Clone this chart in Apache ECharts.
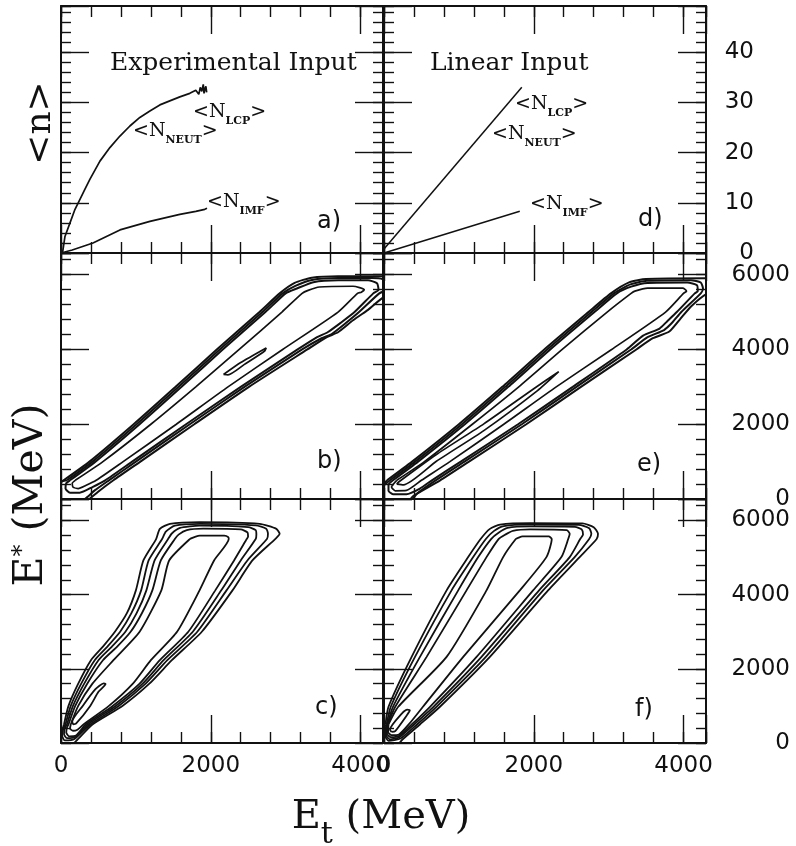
<!DOCTYPE html>
<html><head><meta charset="utf-8">
<script src="https://cdn.jsdelivr.net/npm/echarts@6/dist/echarts.min.js"></script>
<style>html,body{margin:0;padding:0;background:#fff}#c{width:796px;height:846px}</style>
</head><body><div id="c"></div>
<script>
// ---------- axis ranges / ticks ----------
const xTicks = [0, 2000, 4000];
const nTicks = [0, 10, 20, 30, 40];
const eTicks = [0, 2000, 4000, 6000];
const X_MAX = 4300, N_MAX = 49.2, E_MAX = 6580;
const X_MINOR = 400, N_MINOR = 2, E_MINOR = 400;

// ---------- panel a) experimental multiplicities (E_t MeV, <n>) ----------
const expLcpNeut = [[20,0],[53,3.3],[120,6.0],[187,8.7],[253,10.7],[320,12.7],[387,14.7],[520,18.3],[653,21.0],[787,23.3],[920,25.3],[1053,27.0],[1187,28.3],[1320,29.5],[1453,30.3],[1587,31.1],[1720,31.8],[1800,32.4],[1840,31.6],[1860,33.0],[1880,32.2],[1900,33.6],[1910,31.8],[1925,32.8],[1935,33.2],[1945,32.0]];
const expImf = [[0,0],[150,0.6],[427,2.0],[787,4.6],[1187,6.3],[1587,7.7],[1800,8.3],[1920,8.7],[1935,8.5],[1950,8.9]];
// ---------- panel d) linear input ----------
const linLcpNeut = [[0,0.8],[1840,33.0]];
const linImf = [[0,0],[1813,8.3]];

// ---------- panel b) contours (E_t, E*) ----------
const bC1 = [[35,500],[380,1000],[970,2000],[1530,3000],[2080,4000],[2650,5000],[2920,5500],[3120,5780],[3350,5920],[3700,5960],[4300,5960],[4500,5960],[4500,5500],[4400,5500],[4100,5060],[3900,4780],[3700,4460],[3550,4330],[3290,4000],[2510,3000],[1780,2000],[1060,1000],[700,500],[500,200],[380,0],[300,-100],[-100,-100],[-100,300],[0,450],[35,500]];
const bC2 = [[80,500],[420,1000],[1010,2000],[1570,3000],[2120,4000],[2690,5000],[2960,5500],[3130,5700],[3350,5860],[3700,5910],[4150,5910],[4300,5880],[4360,5780],[4350,5600],[4250,5500],[3980,5000],[3800,4700],[3620,4420],[3480,4300],[3220,4000],[2450,3000],[1720,2000],[1000,1000],[640,500],[450,230],[350,50],[250,-100],[-100,-100],[-100,380],[20,480],[80,500]];
const bC3 = [[120,500],[460,1000],[1050,2000],[1610,3000],[2160,4000],[2730,5000],[3000,5500],[3150,5630],[3370,5800],[3700,5850],[4100,5850],[4220,5770],[4240,5600],[4170,5500],[3920,5000],[3740,4720],[3560,4460],[3420,4330],[3160,4000],[2400,3000],[1670,2000],[950,1000],[590,500],[420,320],[250,170],[120,170],[60,280],[70,420],[120,500]];
const bC4 = [[190,500],[560,1000],[1200,2000],[1800,3000],[2380,4000],[2950,5000],[3220,5500],[3300,5580],[3450,5670],[3900,5690],[4050,5600],[4010,5530],[3960,5500],[3700,5000],[2960,4000],[2230,3000],[1540,2000],[830,1000],[470,500],[330,360],[230,280],[160,320],[150,420],[190,500]];
const bC5 = [[2170,3330],[2400,3650],[2740,4040],[2720,3960],[2450,3600],[2230,3320],[2170,3330]];

// ---------- panel e) contours ----------
const eC1 = [[40,500],[375,1000],[1000,2000],[1580,3000],[2140,4000],[2730,5000],[3030,5500],[3280,5800],[3500,5885],[4300,5905],[4500,5905],[4500,5600],[4320,5500],[4100,5150],[3950,4800],[3810,4480],[3590,4300],[3370,4000],[2630,3000],[1900,2000],[1135,1000],[750,500],[390,80],[300,-100],[-100,-100],[-100,300],[0,420],[40,500]];
const eC2 = [[80,500],[415,1000],[1040,2000],[1620,3000],[2180,4000],[2770,5000],[3070,5500],[3290,5740],[3510,5835],[4100,5850],[4230,5790],[4260,5630],[4230,5500],[3970,5000],[3850,4720],[3740,4520],[3520,4330],[3300,4000],[2570,3000],[1840,2000],[1075,1000],[690,500],[450,160],[320,-100],[-100,-100],[-100,250],[0,370],[80,500]];
const eC3 = [[120,500],[455,1000],[1080,2000],[1660,3000],[2220,4000],[2810,5000],[3110,5500],[3300,5680],[3520,5780],[4050,5790],[4180,5720],[4190,5560],[4150,5500],[3910,5000],[3780,4750],[3680,4560],[3460,4370],[3240,4000],[2520,3000],[1790,2000],[1025,1000],[640,500],[480,280],[300,130],[120,130],[60,220],[60,380],[120,500]];
const eC4 = [[170,500],[540,1000],[1180,2000],[1800,3000],[2380,4000],[2980,5000],[3300,5500],[3350,5560],[3520,5640],[3990,5640],[4040,5560],[4000,5500],[3760,5000],[3040,4000],[2300,3000],[1600,2000],[880,1000],[500,500],[300,230],[150,220],[100,320],[170,500]];
const eC5 = [[170,400],[200,460],[700,1190],[1333,2010],[2000,2950],[2333,3406],[2050,2900],[1333,1830],[700,1010],[260,380],[170,400]];

// ---------- panel c) contours ----------
const cC1 = [[40,500],[100,1000],[230,1600],[400,2233],[560,2600],[720,3000],[880,3500],[1000,4116],[1100,4923],[1270,5500],[1320,5775],[1454,5910],[1853,5955],[2653,5910],[2876,5775],[2920,5640],[2860,5500],[2556,4923],[2290,4116],[1880,3000],[1480,2233],[1180,1600],[820,1000],[420,500],[200,50],[100,-100],[-100,-100],[-100,200],[0,300],[40,500]];
const cC2 = [[60,500],[130,1000],[270,1600],[450,2233],[620,2600],[790,3000],[940,3500],[1070,4116],[1170,4923],[1350,5500],[1400,5700],[1520,5860],[1850,5910],[2600,5870],[2740,5780],[2764,5640],[2750,5500],[2489,4923],[2210,4116],[1820,3000],[1420,2233],[1130,1600],[770,1000],[390,500],[180,110],[50,70],[15,200],[30,380],[60,500]];
const cC3 = [[80,500],[160,1000],[310,1600],[500,2233],[680,2600],[860,3000],[1010,3500],[1140,4116],[1250,4923],[1430,5500],[1480,5650],[1590,5800],[1850,5860],[2500,5820],[2600,5740],[2609,5620],[2600,5500],[2400,4923],[2140,4116],[1760,3000],[1370,2233],[1090,1600],[730,1000],[360,500],[190,160],[80,130],[40,240],[50,400],[80,500]];
const cC4 = [[100,500],[190,1000],[350,1600],[560,2233],[750,2600],[930,3000],[1080,3500],[1220,4116],[1333,4923],[1520,5500],[1570,5620],[1680,5740],[1900,5780],[2400,5760],[2490,5680],[2498,5560],[2480,5500],[2311,4923],[2060,4116],[1700,3000],[1320,2233],[1050,1600],[690,1000],[330,500],[200,200],[110,180],[70,280],[80,420],[100,500]];
const cC5 = [[130,500],[230,1000],[420,1600],[700,2233],[1050,3000],[1340,4116],[1444,4923],[1720,5500],[1780,5550],[1853,5594],[2180,5590],[2235,5550],[2240,5500],[2044,4923],[1850,4116],[1550,3000],[1200,2233],[960,1600],[640,1000],[300,500],[220,360],[160,330],[120,390],[130,500]];
const cC6 = [[160,500],[150,580],[290,1000],[460,1450],[570,1610],[595,1590],[500,1380],[390,1000],[200,520],[160,500]];

// ---------- panel f) contours ----------
const fC1 = [[20,500],[60,977],[369,2323],[836,4116],[1124,5013],[1290,5500],[1414,5775],[1550,5890],[1950,5930],[2650,5920],[2800,5820],[2858,5640],[2840,5500],[2613,5013],[2191,4116],[1414,2323],[747,977],[480,500],[250,100],[150,-100],[-100,-100],[-100,300],[0,400],[20,500]];
const fC2 = [[35,500],[90,977],[414,2323],[902,4116],[1191,5013],[1360,5500],[1470,5720],[1600,5850],[1950,5890],[2600,5880],[2740,5790],[2769,5640],[2740,5500],[2546,5013],[2124,4116],[1360,2323],[700,977],[440,500],[220,120],[60,60],[15,200],[20,380],[35,500]];
const fC3 = [[45,500],[120,977],[480,2323],[991,4116],[1258,5013],[1430,5500],[1530,5670],[1650,5800],[1950,5840],[2550,5830],[2640,5760],[2658,5620],[2620,5500],[2480,5013],[2071,4116],[1302,2323],[660,977],[400,500],[200,150],[80,100],[30,200],[35,380],[45,500]];
const fC4 = [[50,500],[150,977],[569,2323],[1102,4116],[1369,5013],[1530,5500],[1620,5620],[1720,5720],[1950,5760],[2440,5740],[2480,5640],[2460,5500],[2369,5013],[1991,4116],[1236,2323],[614,977],[370,500],[200,190],[90,160],[40,250],[45,400],[50,500]];
const fC5 = [[60,500],[190,977],[836,2323],[1369,4116],[1591,5013],[1760,5500],[1800,5540],[1850,5570],[2200,5570],[2240,5500],[2169,5013],[1814,4116],[1058,2323],[520,977],[330,500],[200,230],[100,210],[55,300],[60,500]];
const fC6 = [[100,300],[80,360],[250,820],[310,900],[345,880],[310,760],[150,320],[100,300]];

// ---------- layout ----------
const INK = '#111';
const SERIF = 'DejaVu Serif';
const SANS = 'DejaVu Sans';
const W = 322;
const panels = [
  {left:61,  top:6,   height:247, ymax:N_MAX, maj:10,   min:N_MINOR, xLab:false, yLab:false},
  {left:384, top:6,   height:247, ymax:N_MAX, maj:10,   min:N_MINOR, xLab:false, yLab:true, yMargin:48},
  {left:61,  top:253, height:246, ymax:E_MAX, maj:2000, min:E_MINOR, xLab:false, yLab:false},
  {left:384, top:253, height:246, ymax:E_MAX, maj:2000, min:E_MINOR, xLab:false, yLab:true, yMargin:84},
  {left:61,  top:499, height:244, ymax:E_MAX, maj:2000, min:E_MINOR, xLab:true,  yLab:false},
  {left:384, top:499, height:244, ymax:E_MAX, maj:2000, min:E_MINOR, xLab:true,  yLab:true, yMargin:84}
];

function isTick(v, list){ return list.some(t => Math.abs(t - v) < 1e-6); }

const grid = [], xAxis = [], yAxis = [];
panels.forEach((p, i) => {
  grid.push({left:p.left, top:p.top, width:W, height:p.height, containLabel:false, outerBoundsMode:'none'});
  const mk = (pos, max, interval, len, line, lab, tickList, margin, align) => ({
    type:'value', gridIndex:i, position:pos, min:0, max:max, interval:interval,
    axisLine:{show:line, onZero:false, lineStyle:{color:INK, width:2}},
    axisTick:{show:true, inside:true, length:len, lineStyle:{color:INK, width:1.4}},
    minorTick:{show:false}, splitLine:{show:false},
    axisLabel:{show:lab, color:INK, fontFamily:SANS, fontSize:23, margin:margin, align:align,
      hideOverlap:false, showMinLabel:true, showMaxLabel:true,
      formatter: v => isTick(v, tickList) ? String(v) : ''}
  });
  const yTicks = p.ymax === N_MAX ? nTicks : eTicks;
  xAxis.push(mk('bottom', X_MAX, 2000, 28, true, p.xLab, xTicks, 12, 'center'));
  xAxis.push(mk('bottom', X_MAX, X_MINOR, 11, false, false, xTicks, 12, 'center'));
  xAxis.push(mk('top', X_MAX, 2000, 28, true, false, xTicks, 12, 'center'));
  xAxis.push(mk('top', X_MAX, X_MINOR, 11, false, false, xTicks, 12, 'center'));
  yAxis.push(mk('left', p.ymax, p.maj, 28, true, false, yTicks, 8, 'right'));
  yAxis.push(mk('left', p.ymax, p.min, 10, false, false, yTicks, 8, 'right'));
  yAxis.push(mk('right', p.ymax, p.maj, 28, true, p.yLab, yTicks, p.yMargin || 8, 'right'));
  yAxis.push(mk('right', p.ymax, p.min, 10, false, false, yTicks, 8, 'right'));
});

function line(data, gi, w, smooth) {
  return {type:'line', xAxisIndex:gi*4, yAxisIndex:gi*4, data:data, showSymbol:false, symbol:'none',
    smooth:smooth, clip:true, silent:true, z:3, lineStyle:{color:INK, width:w}};
}
const series = [
  line(expLcpNeut, 0, 1.7, false), line(expImf, 0, 1.7, false),
  line(linLcpNeut, 1, 1.5, false), line(linImf, 1, 1.5, false)
];
[bC1,bC2,bC3,bC4,bC5].forEach((d, k) => series.push(line(d, 2, k < 3 ? 2 : 1.7, 0.2)));
[eC1,eC2,eC3,eC4,eC5].forEach((d, k) => series.push(line(d, 3, k < 3 ? 2 : 1.7, 0.2)));
[cC1,cC2,cC3,cC4,cC5,cC6].forEach(d => series.push(line(d, 4, 1.8, 0.2)));
[fC1,fC2,fC3,fC4,fC5,fC6].forEach(d => series.push(line(d, 5, 1.8, 0.2)));

// ---------- annotations ----------
function nLabel(x, y, sub) {
  return {type:'text', x:x, y:y, z:10, style:{
    text:'{m|<N}{s|' + sub + '}{m|>}', verticalAlign:'middle',
    rich:{
      m:{fontFamily:SERIF, fontSize:19, lineHeight:24, verticalAlign:'top', fill:INK},
      s:{fontFamily:SERIF, fontSize:11, fontWeight:'bold', lineHeight:12, padding:[13,0,0,0], verticalAlign:'top', fill:INK}
    }}};
}
function plain(x, y, txt, size, fam) {
  return {type:'text', x:x, y:y, z:10, style:{text:txt, fontFamily:fam, fontSize:size, fill:INK, align:'left', verticalAlign:'middle'}};
}
const graphic = [
  plain(110, 63, 'Experimental Input', 25, SERIF),
  plain(430, 63, 'Linear Input', 25, SERIF),
  nLabel(193, 115, 'LCP'), nLabel(133, 134, 'NEUT'), nLabel(207, 205, 'IMF'),
  nLabel(515, 107, 'LCP'), nLabel(492, 137, 'NEUT'), nLabel(530, 207, 'IMF'),
  plain(317, 222, 'a)', 24, SANS), plain(638, 220, 'd)', 24, SANS),
  plain(317, 462, 'b)', 24, SANS), plain(637, 465, 'e)', 24, SANS),
  plain(315, 708, 'c)', 24, SANS), plain(635, 710, 'f)', 24, SANS),
  {type:'text', x:41, y:123, rotation:Math.PI/2, z:10,
   style:{text:'<n>', fontFamily:SERIF, fontSize:36, fill:INK, align:'center', verticalAlign:'middle'}},
  {type:'text', x:33, y:495, rotation:Math.PI/2, z:10,
   style:{text:'{m|E}{p|*}{m| (MeV)}', align:'center', verticalAlign:'middle',
     rich:{m:{fontFamily:SERIF, fontSize:41, lineHeight:44, verticalAlign:'top', fill:INK},
           p:{fontFamily:SERIF, fontSize:24, lineHeight:24, verticalAlign:'top', fill:INK}}}},
  {type:'text', x:381, y:820, z:10,
   style:{text:'{m|E}{s|t}{m| (MeV)}', align:'center', verticalAlign:'middle',
     rich:{m:{fontFamily:SERIF, fontSize:40, lineHeight:44, verticalAlign:'top', fill:INK},
           s:{fontFamily:SERIF, fontSize:30, lineHeight:30, padding:[22,0,0,0], verticalAlign:'top', fill:INK}}}}
];

const chart = echarts.init(document.getElementById('c'), null, {renderer:'canvas'});
chart.setOption({
  animation:false, backgroundColor:'#fff',
  grid:grid, xAxis:xAxis, yAxis:yAxis, series:series, graphic:graphic
});
</script></body></html>
